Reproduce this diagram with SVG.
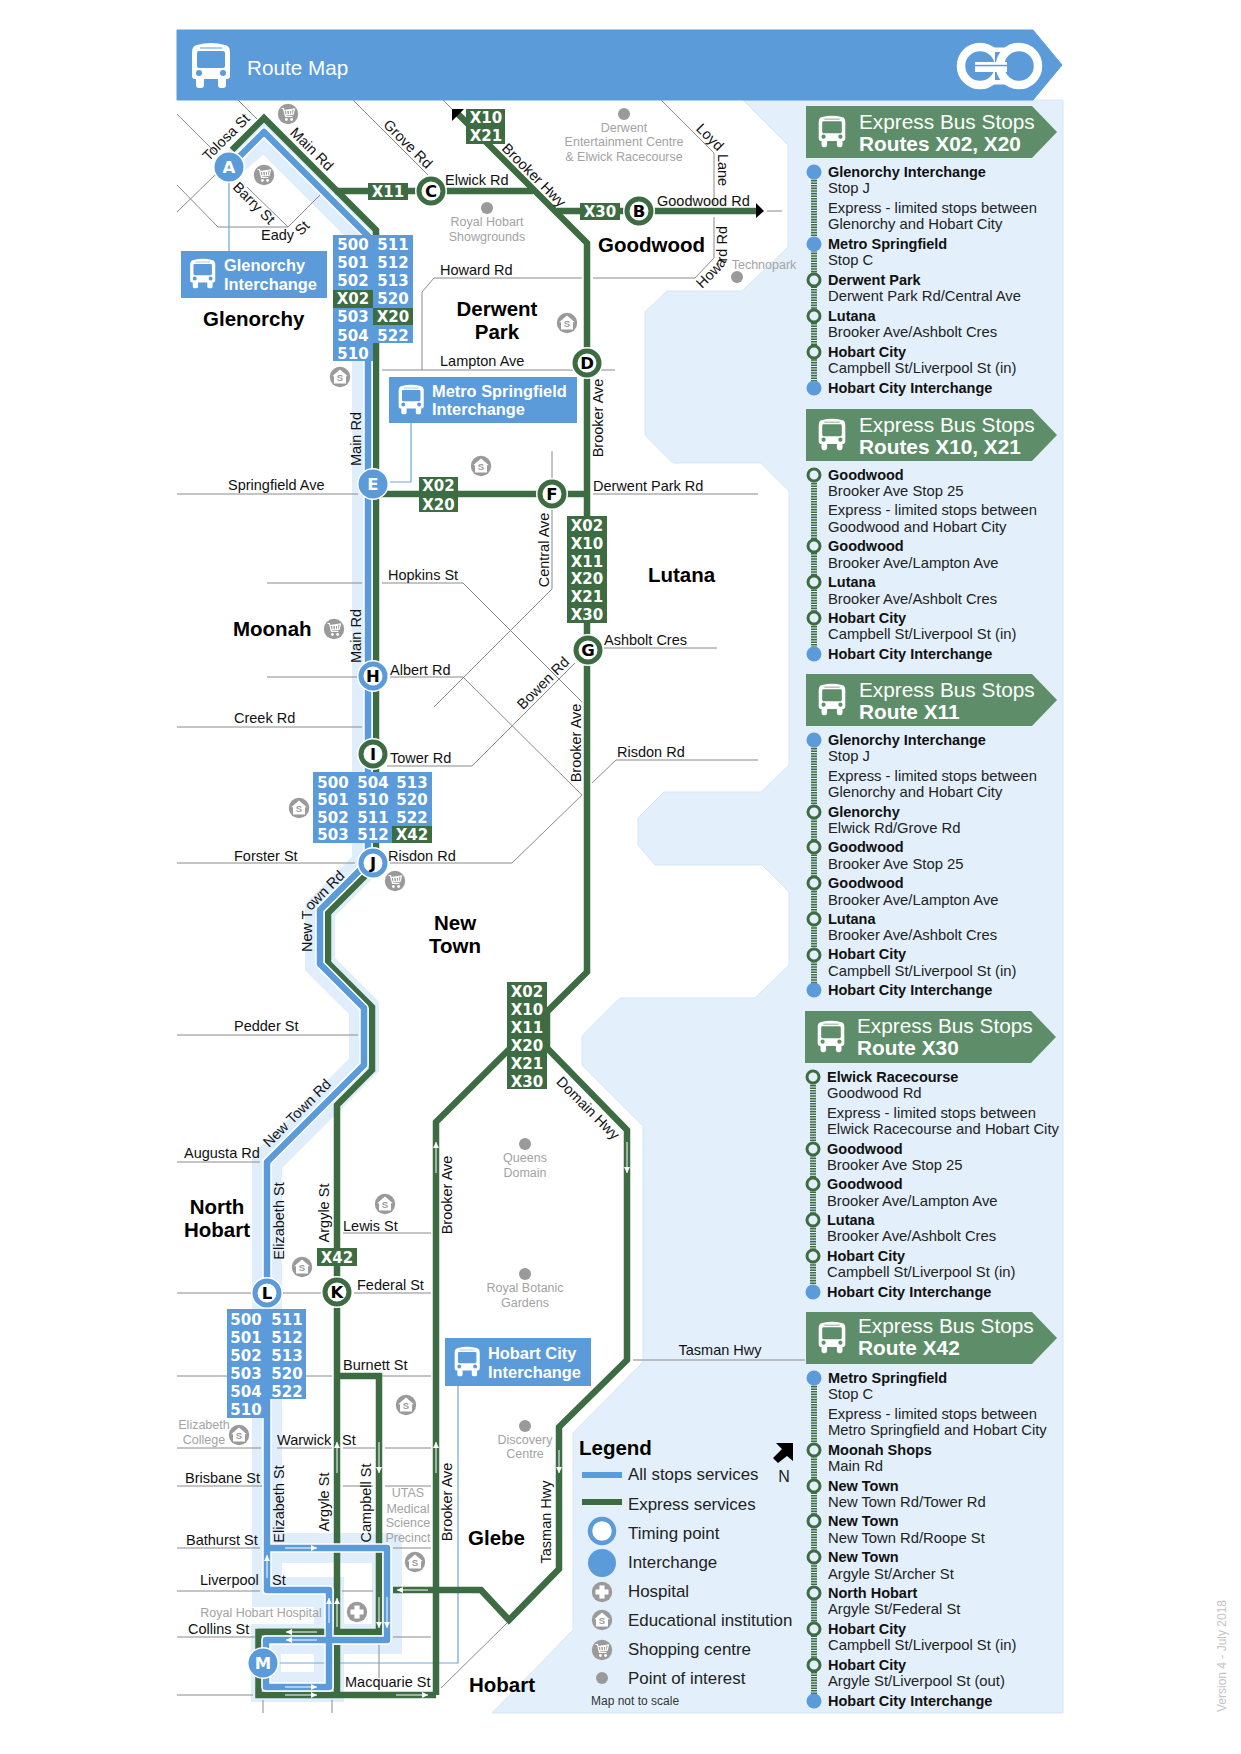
<svg xmlns="http://www.w3.org/2000/svg" xmlns:xlink="http://www.w3.org/1999/xlink" width="1241" height="1754" viewBox="0 0 1241 1754">
<style>
text{font-family:"Liberation Sans",Arial,sans-serif}
.s{font-size:14.5px;fill:#111}
.sm{font-size:14.5px;fill:#111;text-anchor:middle}
.sub{font-size:20.5px;font-weight:bold;fill:#000}
.subm{font-size:20.5px;font-weight:bold;fill:#000;text-anchor:middle}
.poi{font-size:12.5px;fill:#a3a3a3;text-anchor:middle}
.c{font-family:"DejaVu Sans",sans-serif;font-size:15px;font-weight:bold;fill:#fff;text-anchor:middle}
.box{font-size:16.4px;font-weight:bold;fill:#fff}
.b{font-size:14.5px;font-weight:bold;fill:#111}
.r{font-size:14.8px;fill:#222}
.l{font-size:16.9px;fill:#222}
.h1{font-size:20.8px;fill:#fff}
.h2{font-size:20.8px;font-weight:bold;fill:#fff}
.st{font-family:"DejaVu Sans",sans-serif;font-size:16.5px;font-weight:bold;text-anchor:middle;fill:#000}
.blue{fill:#5b9bd9}
.gr{fill:#3d6b42}
.street{fill:none;stroke:#8a8a8a;stroke-width:1}
.gl{fill:none;stroke:#3d6b42;stroke-width:6.5;stroke-linejoin:miter}
.bl{fill:none;stroke:#5b9bd9;stroke-width:6.5;stroke-linejoin:round}
.cw{fill:none;stroke:#fff;stroke-width:9.5;stroke-linejoin:round}
.pale{fill:none;stroke:#e0eefb;stroke-linejoin:miter}
.thin{fill:none;stroke:#6ea7dc;stroke-width:1.2}
.ar{fill:none;stroke:#fff;stroke-width:1;marker-end:url(#wa)}
.dash{stroke:#3d6b42;stroke-width:6;stroke-dasharray:1.6 1;fill:none}
.ring{fill:#e3f0fb;stroke:#3d6b42;stroke-width:3}
.ph{fill:#5e8e69}
</style>
<defs>
<marker id="wa" markerUnits="userSpaceOnUse" markerWidth="7" markerHeight="8" refX="6" refY="3" orient="auto"><path d="M0 0L6 3L0 6Z" fill="#fff"/></marker>
<path id="bus" fill="#fff" fill-rule="evenodd" d="M6 3Q20 -1 34 3Q39 4 39 10L39 34Q39 37 36 37L35 37L35 43Q35 46 32 46L30 46Q27 46 27 43L27 37L13 37L13 43Q13 46 10 46L8 46Q5 46 5 43L5 37L4 37Q1 37 1 34L1 10Q1 4 6 3ZM6 11Q6 9 8 9L32 9Q34 9 34 11L34 24Q34 26 32 26L8 26Q6 26 6 24ZM9 5.5L31 5.5L31 6.5L9 6.5ZM5 31a3 3 0 1 0 6 0a3 3 0 1 0 -6 0ZM29 31a3 3 0 1 0 6 0a3 3 0 1 0 -6 0Z"/>
<g id="school"><circle r="10.2" fill="#9a9a9a"/><path d="M0 -7.5L7.8 -0.8L6 -0.8L6 6.5L-6 6.5L-6 -0.8L-7.8 -0.8Z" fill="#fff"/><text y="3.8" text-anchor="middle" font-size="9.5" font-weight="bold" fill="#9a9a9a">S</text></g>
<g id="shop"><circle r="10.2" fill="#9a9a9a"/><path d="M-6.5 -5.5L-4.5 -5.5L-2.5 2.5L4.5 2.5M-3.8 -3.5L6.5 -5L5 0.5L-2.8 0.8M-1.5 -4L-0.8 0.8M1.2 -4.3L1.6 0.6M3.8 -4.6L3.4 0.5" fill="none" stroke="#fff" stroke-width="1.2"/><circle cx="-1.6" cy="5.5" r="1.4" fill="#fff"/><circle cx="3.6" cy="5.5" r="1.4" fill="#fff"/></g>
<g id="hosp"><circle r="10.2" fill="#9a9a9a"/><path d="M-2.6 -6.5H2.6V-2.6H6.5V2.6H2.6V6.5H-2.6V2.6H-6.5V-2.6H-2.6Z" fill="#fff"/></g>
<path id="ntr" d="M312 952L312 910L346 876"/>
<path id="hrd" d="M702 289L723 268L727 260L727 212"/>
</defs>

<g id="water"><path d="M743 100L1063 100L1063 1713L492 1713L573 1630L573 1433L643 1362L643 1126L582 1065L582 1036L620 998L755 998L789 965L789 892L762 865L655 865L638 845L638 818L664 792L761 792L789 765L789 491L761 463L673 463L645 435L645 312L667 291L742 291L788 247L788 145Z" fill="#e3f0fb" stroke="#d5e6f6"/></g>

<g id="corridor">
<path class="pale" stroke-width="26" d="M229 167L264 137L365 238L365 863"/>
<path class="pale" stroke-width="30" d="M368 862L320 910L320 964L364 1008L364 1065L267 1162L267 1592L329 1592L329 1687L266 1687L266 1639L387 1639L387 1548L267 1548"/>
</g>

<g id="header">
<path d="M177 30L1033 30L1062 65L1033 100L177 100Z" fill="#5b9bd9" stroke="#5b9bd9" stroke-linejoin="round"/>
<use href="#bus" transform="translate(191 42)"/>
<text x="247" y="75" font-size="20.7" fill="#fff">Route Map</text>
<g id="go-logo"><circle cx="980" cy="66" r="19" fill="none" stroke="#fff" stroke-width="8.500"/><rect x="995" y="50" width="14" height="32" fill="#5b9bd9"/><path d="M988 47.500L1006 47.500L1006 52L993 52ZM988 84.500L1006 84.500L1006 80L993 80Z" fill="#fff"/><circle cx="1019" cy="66" r="19" fill="#5b9bd9" stroke="#fff" stroke-width="8.500"/><rect x="975" y="62" width="32" height="10" fill="#fff"/><rect x="975" y="64.800" width="34" height="1.500" fill="#5b9bd9"/></g>
</g>

<g id="streets">
<path class="street" d="M238 100L257 119"/>
<path class="street" d="M177 114L215 152"/>
<path class="street" d="M177 212L215 175"/>
<path class="street" d="M177 185L218 227L288 227L320 195"/>
<path class="street" d="M247 187L288 227"/>
<path class="street" d="M353 100L428 175"/>
<path class="street" d="M443 100L453 110"/>
<path class="street" d="M422 370L422 292L434 278L582 278"/>
<path class="street" d="M593 278L695 278L714 258L714 217"/>
<path class="street" d="M714 204L714 153L661 100"/>
<path class="street" d="M382 370L573 370M600 370L615 370"/>
<path class="street" d="M767 211L782 211"/>
<path class="street" d="M177 494L358 494"/>
<path class="street" d="M593 494L758 494"/>
<path class="street" d="M552 451L552 480M552 510L552 589L434 707"/>
<path class="street" d="M267 583L362 583M382 583L463 583L582 702"/>
<path class="street" d="M267 677L358 677M390 677L463 677L582 795L512 863L390 863"/>
<path class="street" d="M177 727L362 727"/>
<path class="street" d="M387 766L472 766L575 663"/>
<path class="street" d="M592 783L616 760L758 760"/>
<path class="street" d="M604 648L717 648"/>
<path class="street" d="M177 863L355 863"/>
<path class="street" d="M177 1035L358 1035"/>
<path class="street" d="M177 1162L260 1162"/>
<path class="street" d="M343 1233L431 1233"/>
<path class="street" d="M177 1293L252 1293M282 1293L322 1293M354 1293L431 1293"/>
<path class="street" d="M177 1376L227 1376M306 1376L332 1376M382 1376L431 1376"/>
<path class="street" d="M177 1448L261 1448M277 1448L332 1448M343 1448L375 1448M385 1448L431 1448"/>
<path class="street" d="M177 1486L262 1486M343 1486L373 1486M385 1486L431 1486"/>
<path class="street" d="M177 1548L260 1548M393 1548L431 1548"/>
<path class="street" d="M177 1591L260 1591M342 1591L373 1591"/>
<path class="street" d="M177 1637L255 1637M393 1637L431 1637"/>
<path class="street" d="M177 1695L253 1695"/>
<path class="street" d="M263 1700L263 1713M332 1700L332 1713M379 1645L379 1678"/>
<path class="street" d="M441 1688L507 1623"/>
<path d="M633 1360L805 1360" fill="none" stroke="#a9acb0" stroke-width="1.6"/>
</g>

<g id="connectors">
<path class="thin" d="M229 167L229 251"/>
<path class="thin" d="M411 423L411 482L390 482"/>
<path class="thin" d="M458 1386L458 1663L280 1663"/>
<g id="express-lines">
<path class="gl" d="M232 150L264 118L376 230L376 865L328 913L328 963L372 1007L372 1070L337 1105L337 1632"/>
<path class="gl" d="M335 191L533 191"/>
<path class="gl" d="M457 113L587 243L587 972L436 1122L436 1695"/>
<path class="gl" d="M557 211L756 211"/>
<path class="gl" d="M373 494L587 494"/>
<path class="gl" d="M547 1012L547 1048L627 1130L627 1360L559 1427L559 1569L509 1620L481 1590L393 1590"/>
<path class="gl" d="M258 1632L379 1632L379 1376L337 1376"/>
<path class="gl" d="M337 1645L337 1695"/>
<path class="gl" stroke-linejoin="round" d="M323 1632L258.500 1632L258.500 1695L436 1695"/>
</g>
<g id="allstops-lines">
<path class="cw" d="M229 167L264 132L368 236L368 862L320 910L320 964L364 1008L364 1065L267 1162L267 1590L329 1590L329 1687L266 1687L266 1640L387 1640L387 1548L267 1548"/>
<path class="bl" d="M229 167L264 132L368 236L368 862L320 910L320 964L364 1008L364 1065L267 1162L267 1590L329 1590L329 1687L266 1687L266 1640L387 1640L387 1548L267 1548"/>
</g>
<g id="direction-arrows">
<path class="ar" d="M285 1548L317 1548"/>
<path class="ar" d="M267 1578L267 1555"/>
<path class="ar" d="M329 1623L329 1598"/>
<path class="ar" d="M337 1627L337 1598"/>
<path class="ar" d="M379 1597L379 1628"/>
<path class="ar" d="M387 1597L387 1628"/>
<path class="ar" d="M379 1442L379 1473"/>
<path class="ar" d="M337 1473L337 1442"/>
<path class="ar" d="M436 1473L436 1442"/>
<path class="ar" d="M436 1173L436 1142"/>
<path class="ar" d="M627 1142L627 1173"/>
<path class="ar" d="M559 1450L559 1473"/>
<path class="ar" d="M428 1590L397 1590"/>
<path class="ar" d="M317 1632L286 1632"/>
<path class="ar" d="M317 1640L286 1640"/>
<path class="ar" d="M285 1687L317 1687"/>
<path class="ar" d="M285 1695L317 1695"/>
<path class="ar" d="M396 1695L428 1695"/>
</g>
<path d="M452 109L464 109L452 121Z" fill="#000"/>
<path d="M756 203L756 218L764 211Z" fill="#000"/>
</g>

<g id="stations">
<g id="stop-A"><circle cx="229" cy="167" r="16" fill="#fff"/><circle cx="229" cy="167" r="14.5" class="blue"/><text x="229" y="173" class="st" style="fill:#fff">A</text></g>
<g id="stop-B"><circle cx="639" cy="211" r="16" fill="#fff"/><circle cx="639" cy="211" r="12" fill="#fff" stroke="#3d6b42" stroke-width="5"/><text x="639" y="217" class="st">B</text></g>
<g id="stop-C"><circle cx="431" cy="191" r="16" fill="#fff"/><circle cx="431" cy="191" r="12" fill="#fff" stroke="#3d6b42" stroke-width="5"/><text x="431" y="197" class="st">C</text></g>
<g id="stop-D"><circle cx="587" cy="363" r="16" fill="#fff"/><circle cx="587" cy="363" r="12" fill="#fff" stroke="#3d6b42" stroke-width="5"/><text x="587" y="369" class="st">D</text></g>
<g id="stop-E"><circle cx="373" cy="484" r="16" fill="#fff"/><circle cx="373" cy="484" r="14.500" class="blue"/><text x="373" y="490" class="st" style="fill:#fff">E</text></g>
<g id="stop-F"><circle cx="552" cy="494" r="16" fill="#fff"/><circle cx="552" cy="494" r="12" fill="#fff" stroke="#3d6b42" stroke-width="5"/><text x="552" y="500" class="st">F</text></g>
<g id="stop-G"><circle cx="588" cy="650" r="16" fill="#fff"/><circle cx="588" cy="650" r="12" fill="#fff" stroke="#3d6b42" stroke-width="5"/><text x="588" y="656" class="st">G</text></g>
<g id="stop-H"><circle cx="373" cy="676" r="16" fill="#fff"/><circle cx="373" cy="676" r="12" fill="#fff" stroke="#5b9bd9" stroke-width="5"/><text x="373" y="682" class="st">H</text></g>
<g id="stop-I"><circle cx="373" cy="754" r="16" fill="#fff"/><circle cx="373" cy="754" r="12" fill="#fff" stroke="#3d6b42" stroke-width="5"/><text x="373" y="760" class="st">I</text></g>
<g id="stop-J"><circle cx="373" cy="863" r="16" fill="#fff"/><circle cx="373" cy="863" r="12" fill="#fff" stroke="#5b9bd9" stroke-width="5"/><text x="373" y="869" class="st">J</text></g>
<g id="stop-K"><circle cx="337" cy="1292" r="16" fill="#fff"/><circle cx="337" cy="1292" r="12" fill="#fff" stroke="#3d6b42" stroke-width="5"/><text x="337" y="1298" class="st">K</text></g>
<g id="stop-L"><circle cx="267" cy="1293" r="16" fill="#fff"/><circle cx="267" cy="1293" r="12" fill="#fff" stroke="#5b9bd9" stroke-width="5"/><text x="267" y="1299" class="st">L</text></g>
<g id="stop-M"><circle cx="263" cy="1663" r="16" fill="#fff"/><circle cx="263" cy="1663" r="14.500" class="blue"/><text x="263" y="1669" class="st" style="fill:#fff">M</text></g>
</g>

<g id="interchange-boxes">
<g id="box-glenorchy"><rect x="181" y="251" width="146" height="47" class="blue"/><use href="#bus" transform="translate(189.500 258) scale(.66)"/><text class="box" x="224" y="271">Glenorchy</text><text class="box" x="224" y="290">Interchange</text></g>
<g id="box-metro"><rect x="389" y="377" width="188" height="46" class="blue"/><use href="#bus" transform="translate(398 384) scale(.66)"/><text class="box" x="432" y="397">Metro Springfield</text><text class="box" x="432" y="415">Interchange</text></g>
<g id="box-hobart"><rect x="445" y="1338" width="146" height="48" class="blue"/><use href="#bus" transform="translate(454 1346) scale(.66)"/><text class="box" x="488" y="1359">Hobart City</text><text class="box" x="488" y="1378">Interchange</text></g>
</g>

<g id="route-boxes">
<g id="routes-glenorchy"><rect x="333" y="235" width="80" height="108" class="blue"/><rect x="333" y="343" width="40" height="18" class="blue"/><rect x="333" y="290" width="40" height="18" class="gr"/><rect x="373" y="308" width="40" height="17" class="gr"/>
<text class="c" x="353" y="250">500</text><text class="c" x="393" y="250">511</text><text class="c" x="353" y="268">501</text><text class="c" x="393" y="268">512</text><text class="c" x="353" y="286">502</text><text class="c" x="393" y="286">513</text><text class="c" x="353" y="304">X02</text><text class="c" x="393" y="304">520</text><text class="c" x="353" y="322">503</text><text class="c" x="393" y="322">X20</text><text class="c" x="353" y="341">504</text><text class="c" x="393" y="341">522</text><text class="c" x="353" y="359">510</text></g>
<g id="routes-newtown"><rect x="313" y="772" width="119" height="71" class="blue"/><rect x="392" y="826" width="40" height="17" class="gr"/>
<text class="c" x="333" y="788">500</text><text class="c" x="373" y="788">504</text><text class="c" x="412" y="788">513</text><text class="c" x="333" y="805">501</text><text class="c" x="373" y="805">510</text><text class="c" x="412" y="805">520</text><text class="c" x="333" y="823">502</text><text class="c" x="373" y="823">511</text><text class="c" x="412" y="823">522</text><text class="c" x="333" y="840">503</text><text class="c" x="373" y="840">512</text><text class="c" x="412" y="840">X42</text></g>
<g id="routes-hobart"><rect x="227" y="1309" width="79" height="90" class="blue"/><rect x="227" y="1399" width="40" height="19" class="blue"/>
<text class="c" x="246" y="1325">500</text><text class="c" x="287" y="1325">511</text><text class="c" x="246" y="1343">501</text><text class="c" x="287" y="1343">512</text><text class="c" x="246" y="1361">502</text><text class="c" x="287" y="1361">513</text><text class="c" x="246" y="1379">503</text><text class="c" x="287" y="1379">520</text><text class="c" x="246" y="1397">504</text><text class="c" x="287" y="1397">522</text><text class="c" x="246" y="1415">510</text></g>
<g id="x11"><rect x="368" y="183" width="40" height="17" class="gr"/><text class="c" x="388" y="197">X11</text></g>
<g id="x10x21"><rect x="466" y="109" width="39" height="35" class="gr"/><text class="c" x="486" y="123">X10</text><text class="c" x="486" y="141">X21</text></g>
<g id="x30"><rect x="580" y="203" width="40" height="17" class="gr"/><text class="c" x="600" y="217">X30</text></g>
<g id="x02x20"><rect x="419" y="477" width="39" height="35" class="gr"/><text class="c" x="438.500" y="491">X02</text><text class="c" x="438.500" y="510">X20</text></g>
<g id="list-lutana"><rect x="567" y="516" width="40" height="107" class="gr"/><text class="c" x="587" y="531">X02</text><text class="c" x="587" y="549">X10</text><text class="c" x="587" y="567">X11</text><text class="c" x="587" y="584">X20</text><text class="c" x="587" y="602">X21</text><text class="c" x="587" y="620">X30</text></g>
<g id="list-mid"><rect x="507" y="982" width="40" height="107" class="gr"/><text class="c" x="527" y="997">X02</text><text class="c" x="527" y="1015">X10</text><text class="c" x="527" y="1033">X11</text><text class="c" x="527" y="1051">X20</text><text class="c" x="527" y="1069">X21</text><text class="c" x="527" y="1087">X30</text></g>
<g id="x42"><rect x="317" y="1248" width="40" height="18" class="gr"/><text class="c" x="337" y="1263">X42</text></g>
</g>

<g id="icons">
<use href="#shop" x="288" y="114"/><use href="#shop" x="264" y="175"/><use href="#shop" x="334" y="629"/><use href="#shop" x="395" y="881"/>
<use href="#school" x="567" y="323"/><use href="#school" x="340" y="377"/><use href="#school" x="481" y="466"/><use href="#school" x="299" y="808"/><use href="#school" x="385" y="1204"/><use href="#school" x="302" y="1267"/><use href="#school" x="406" y="1405"/><use href="#school" x="239" y="1435"/><use href="#school" x="415" y="1562"/>
<use href="#hosp" x="357" y="1612"/>
<g fill="#9a9a9a"><circle cx="624" cy="114" r="6"/><circle cx="487" cy="208" r="6"/><circle cx="737" cy="277" r="6"/><circle cx="525" cy="1144" r="6"/><circle cx="525" cy="1274" r="6"/><circle cx="525" cy="1426" r="6"/></g>
</g>

<g id="poi-labels">
<text class="poi" x="624" y="132">Derwent</text><text class="poi" x="624" y="146">Entertainment Centre</text><text class="poi" x="624" y="161">&amp; Elwick Racecourse</text>
<text class="poi" x="487" y="226">Royal Hobart</text><text class="poi" x="487" y="241">Showgrounds</text>
<text class="poi" x="764" y="269">Technopark</text>
<text class="poi" x="525" y="1162">Queens</text><text class="poi" x="525" y="1177">Domain</text>
<text class="poi" x="525" y="1292">Royal Botanic</text><text class="poi" x="525" y="1307">Gardens</text>
<text class="poi" x="525" y="1444">Discovery</text><text class="poi" x="525" y="1458">Centre</text>
<text class="poi" x="204" y="1429">Elizabeth</text><text class="poi" x="204" y="1444">College</text>
<text class="poi" x="408" y="1497">UTAS</text><text class="poi" x="408" y="1513">Medical</text><text class="poi" x="408" y="1527">Science</text><text class="poi" x="408" y="1542">Precinct</text>
<text class="poi" x="261" y="1617">Royal Hobart Hospital</text>
</g>

<g id="suburbs">
<text class="sub" x="203" y="326">Glenorchy</text>
<text class="sub" x="598" y="252">Goodwood</text>
<text class="subm" x="497" y="316">Derwent</text><text class="subm" x="497" y="339">Park</text>
<text class="sub" x="648" y="582">Lutana</text>
<text class="sub" x="233" y="636">Moonah</text>
<text class="subm" x="455" y="930">New</text><text class="subm" x="455" y="953">Town</text>
<text class="subm" x="217" y="1214">North</text><text class="subm" x="217" y="1237">Hobart</text>
<text class="sub" x="468" y="1545">Glebe</text>
<text class="sub" x="469" y="1692">Hobart</text>
</g>

<g id="street-labels">
<text class="sm" dy="5" transform="translate(226 137) rotate(-45)">Tolosa St</text>
<text class="sm" dy="5" transform="translate(312 149) rotate(45)">Main Rd</text>
<text class="sm" dy="5" transform="translate(254 203) rotate(45)">Barry St</text>
<text class="s" x="261" y="240">Eady</text>
<text class="sm" dy="5" transform="translate(302 228) rotate(-45)">St</text>
<text class="sm" dy="5" transform="translate(408 144) rotate(45)">Grove Rd</text>
<text class="s" x="445" y="185">Elwick Rd</text>
<text class="sm" dy="5" transform="translate(534 175) rotate(45)">Brooker Hwy</text>
<text class="s" x="657" y="206">Goodwood Rd</text>
<text class="sm" dy="5" transform="translate(710 137) rotate(45)">Loyd</text>
<text class="sm" dy="5" transform="translate(723 170) rotate(90)">Lane</text>
<text class="s"><textPath href="#hrd">Howard Rd</textPath></text>
<text class="s" x="440" y="275">Howard Rd</text>
<text class="s" x="440" y="366">Lampton Ave</text>
<text class="sm" dy="5" transform="translate(598 418) rotate(-90)">Brooker Ave</text>
<text class="sm" dy="5" transform="translate(356 439) rotate(-90)">Main Rd</text>
<text class="sm" dy="5" transform="translate(356 636) rotate(-90)">Main Rd</text>
<text class="s" x="228" y="490">Springfield Ave</text>
<text class="s" x="593" y="491">Derwent Park Rd</text>
<text class="sm" dy="5" transform="translate(544 550) rotate(-90)">Central Ave</text>
<text class="s" x="388" y="580">Hopkins St</text>
<text class="s" x="604" y="645">Ashbolt Cres</text>
<text class="s" x="390" y="675">Albert Rd</text>
<text class="s" x="234" y="723">Creek Rd</text>
<text class="sm" dy="5" transform="translate(543 683) rotate(-45)">Bowen Rd</text>
<text class="sm" dy="5" transform="translate(576 743) rotate(-90)">Brooker Ave</text>
<text class="s" x="390" y="763">Tower Rd</text>
<text class="s" x="617" y="757">Risdon Rd</text>
<text class="s" x="234" y="861">Forster St</text>
<text class="s" x="388" y="861">Risdon Rd</text>
<text class="s"><textPath href="#ntr">New Town Rd</textPath></text>
<text class="s" x="234" y="1031">Pedder St</text>
<text class="sm" dy="5" transform="translate(297 1113) rotate(-45)">New Town Rd</text>
<text class="s" x="184" y="1158">Augusta Rd</text>
<text class="sm" dy="5" transform="translate(279 1221) rotate(-90)">Elizabeth St</text>
<text class="sm" dy="5" transform="translate(324 1213) rotate(-90)">Argyle St</text>
<text class="s" x="343" y="1231">Lewis St</text>
<text class="s" x="357" y="1290">Federal St</text>
<text class="sm" dy="5" transform="translate(447 1195) rotate(-90)">Brooker Ave</text>
<text class="sm" dy="5" transform="translate(588 1108) rotate(45)">Domain Hwy</text>
<text class="s" x="343" y="1370">Burnett St</text>
<text class="s" y="1445"><tspan x="277">Warwick </tspan><tspan x="342">St</tspan></text>
<text class="s" x="185" y="1483">Brisbane St</text>
<text class="sm" dy="5" transform="translate(279 1504) rotate(-90)">Elizabeth St</text>
<text class="sm" dy="5" transform="translate(324 1502) rotate(-90)">Argyle St</text>
<text class="sm" dy="5" transform="translate(366 1503) rotate(-90)">Campbell St</text>
<text class="sm" dy="5" transform="translate(447 1502) rotate(-90)">Brooker Ave</text>
<text class="sm" dy="5" transform="translate(546 1522) rotate(-90)">Tasman Hwy</text>
<text class="s" x="186" y="1545">Bathurst St</text>
<text class="s" y="1585"><tspan x="200">Liverpool </tspan><tspan x="272">St</tspan></text>
<text class="s" x="188" y="1634">Collins St</text>
<text class="s" x="345" y="1687">Macquarie St</text>
<text class="sm" x="720" y="1355">Tasman Hwy</text>
</g>

<g id="legend">
<text class="sub" x="579" y="1455">Legend</text>
<rect x="582" y="1472" width="40" height="6" class="blue"/><text class="l" x="628" y="1480">All stops services</text>
<rect x="582" y="1499" width="40" height="6" class="gr"/><text class="l" x="628" y="1510">Express services</text>
<circle cx="602" cy="1531" r="12" fill="#fff" stroke="#5b9bd9" stroke-width="4.500"/><text class="l" x="628" y="1539">Timing point</text>
<circle cx="602" cy="1563" r="14" class="blue"/><text class="l" x="628" y="1568">Interchange</text>
<use href="#hosp" x="602" y="1592"/><text class="l" x="628" y="1597">Hospital</text>
<use href="#school" x="602" y="1620"/><text class="l" x="628" y="1626">Educational institution</text>
<use href="#shop" x="602" y="1650"/><text class="l" x="628" y="1655">Shopping centre</text>
<circle cx="602" cy="1678" r="6" fill="#9a9a9a"/><text class="l" x="628" y="1684">Point of interest</text>
<text x="591" y="1705" font-size="12" fill="#333">Map not to scale</text>
<path d="M776 1443L793 1443L793 1461L787 1456L778 1463L773 1458L782 1449Z" fill="#000"/>
<text x="784" y="1482" font-size="16" text-anchor="middle" fill="#222">N</text>
</g>

<g id="panel-x02x20">
<path class="ph" d="M806 106L1032 106L1057 132L1032 158L806 158Z"/><use href="#bus" transform="translate(818 115) scale(.7)"/><text class="h1" x="859" y="129">Express Bus Stops</text><text class="h2" x="859" y="151">Routes X02, X20</text>
<path class="dash" d="M814 172L814 388"/>
<circle cx="814" cy="172" r="7.500" class="blue"/><circle cx="814" cy="244" r="7.500" class="blue"/><circle cx="814" cy="280" r="6" class="ring"/><circle cx="814" cy="316" r="6" class="ring"/><circle cx="814" cy="352" r="6" class="ring"/><circle cx="814" cy="388" r="7.500" class="blue"/>
<text class="b" x="828" y="177">Glenorchy Interchange</text><text class="r" x="828" y="193">Stop J</text><text class="r" x="828" y="213">Express - limited stops between</text><text class="r" x="828" y="229">Glenorchy and Hobart City</text><text class="b" x="828" y="249">Metro Springfield</text><text class="r" x="828" y="265">Stop C</text><text class="b" x="828" y="285">Derwent Park</text><text class="r" x="828" y="301">Derwent Park Rd/Central Ave</text><text class="b" x="828" y="321">Lutana</text><text class="r" x="828" y="337">Brooker Ave/Ashbolt Cres</text><text class="b" x="828" y="357">Hobart City</text><text class="r" x="828" y="373">Campbell St/Liverpool St (in)</text><text class="b" x="828" y="393">Hobart City Interchange</text>
</g>

<g id="panel-x10x21">
<path class="ph" d="M806 409L1032 409L1057 435L1032 461L806 461Z"/><use href="#bus" transform="translate(818 418) scale(.7)"/><text class="h1" x="859" y="432">Express Bus Stops</text><text class="h2" x="859" y="454">Routes X10, X21</text>
<path class="dash" d="M814 475L814 655"/>
<circle cx="814" cy="475" r="6" class="ring"/><circle cx="814" cy="546" r="6" class="ring"/><circle cx="814" cy="582" r="6" class="ring"/><circle cx="814" cy="618" r="6" class="ring"/><circle cx="814" cy="654" r="7.500" class="blue"/>
<text class="b" x="828" y="480">Goodwood</text><text class="r" x="828" y="496">Brooker Ave Stop 25</text><text class="r" x="828" y="515">Express - limited stops between</text><text class="r" x="828" y="532">Goodwood and Hobart City</text><text class="b" x="828" y="551">Goodwood</text><text class="r" x="828" y="568">Brooker Ave/Lampton Ave</text><text class="b" x="828" y="587">Lutana</text><text class="r" x="828" y="604">Brooker Ave/Ashbolt Cres</text><text class="b" x="828" y="623">Hobart City</text><text class="r" x="828" y="639">Campbell St/Liverpool St (in)</text><text class="b" x="828" y="659">Hobart City Interchange</text>
</g>

<g id="panel-x11">
<path class="ph" d="M806 674L1032 674L1057 700L1032 726L806 726Z"/><use href="#bus" transform="translate(818 683) scale(.7)"/><text class="h1" x="859" y="697">Express Bus Stops</text><text class="h2" x="859" y="719">Route X11</text>
<path class="dash" d="M814 740L814 991"/>
<circle cx="814" cy="740" r="7.500" class="blue"/><circle cx="814" cy="812" r="6" class="ring"/><circle cx="814" cy="847" r="6" class="ring"/><circle cx="814" cy="883" r="6" class="ring"/><circle cx="814" cy="919" r="6" class="ring"/><circle cx="814" cy="955" r="6" class="ring"/><circle cx="814" cy="990" r="7.500" class="blue"/>
<text class="b" x="828" y="745">Glenorchy Interchange</text><text class="r" x="828" y="761">Stop J</text><text class="r" x="828" y="781">Express - limited stops between</text><text class="r" x="828" y="797">Glenorchy and Hobart City</text><text class="b" x="828" y="817">Glenorchy</text><text class="r" x="828" y="833">Elwick Rd/Grove Rd</text><text class="b" x="828" y="852">Goodwood</text><text class="r" x="828" y="869">Brooker Ave Stop 25</text><text class="b" x="828" y="888">Goodwood</text><text class="r" x="828" y="905">Brooker Ave/Lampton Ave</text><text class="b" x="828" y="924">Lutana</text><text class="r" x="828" y="940">Brooker Ave/Ashbolt Cres</text><text class="b" x="828" y="959">Hobart City</text><text class="r" x="828" y="976">Campbell St/Liverpool St (in)</text><text class="b" x="828" y="995">Hobart City Interchange</text>
</g>

<g id="panel-x30">
<path class="ph" d="M805 1011L1031 1011L1056 1037L1031 1063L805 1063Z"/><use href="#bus" transform="translate(817 1020) scale(.7)"/><text class="h1" x="857" y="1033">Express Bus Stops</text><text class="h2" x="857" y="1055">Route X30</text>
<path class="dash" d="M813 1077L813 1292"/>
<circle cx="813" cy="1077" r="6" class="ring"/><circle cx="813" cy="1149" r="6" class="ring"/><circle cx="813" cy="1184" r="6" class="ring"/><circle cx="813" cy="1220" r="6" class="ring"/><circle cx="813" cy="1256" r="6" class="ring"/><circle cx="813" cy="1292" r="7.500" class="blue"/>
<text class="b" x="827" y="1082">Elwick Racecourse</text><text class="r" x="827" y="1098">Goodwood Rd</text><text class="r" x="827" y="1118">Express - limited stops between</text><text class="r" x="827" y="1134">Elwick Racecourse and Hobart City</text><text class="b" x="827" y="1154">Goodwood</text><text class="r" x="827" y="1170">Brooker Ave Stop 25</text><text class="b" x="827" y="1189">Goodwood</text><text class="r" x="827" y="1206">Brooker Ave/Lampton Ave</text><text class="b" x="827" y="1225">Lutana</text><text class="r" x="827" y="1241">Brooker Ave/Ashbolt Cres</text><text class="b" x="827" y="1261">Hobart City</text><text class="r" x="827" y="1277">Campbell St/Liverpool St (in)</text><text class="b" x="827" y="1297">Hobart City Interchange</text>
</g>

<g id="panel-x42">
<path class="ph" d="M806 1312L1032 1312L1057 1338L1032 1364L806 1364Z"/><use href="#bus" transform="translate(818 1321) scale(.7)"/><text class="h1" x="858" y="1333">Express Bus Stops</text><text class="h2" x="858" y="1355">Route X42</text>
<path class="dash" d="M814 1378L814 1701"/>
<circle cx="814" cy="1378" r="7.500" class="blue"/><circle cx="814" cy="1450" r="6" class="ring"/><circle cx="814" cy="1486" r="6" class="ring"/><circle cx="814" cy="1521" r="6" class="ring"/><circle cx="814" cy="1557" r="6" class="ring"/><circle cx="814" cy="1593" r="6" class="ring"/><circle cx="814" cy="1629" r="6" class="ring"/><circle cx="814" cy="1665" r="6" class="ring"/><circle cx="814" cy="1701" r="7.500" class="blue"/>
<text class="b" x="828" y="1383">Metro Springfield</text><text class="r" x="828" y="1399">Stop C</text><text class="r" x="828" y="1419">Express - limited stops between</text><text class="r" x="828" y="1435">Metro Springfield and Hobart City</text><text class="b" x="828" y="1455">Moonah Shops</text><text class="r" x="828" y="1471">Main Rd</text><text class="b" x="828" y="1491">New Town</text><text class="r" x="828" y="1507">New Town Rd/Tower Rd</text><text class="b" x="828" y="1526">New Town</text><text class="r" x="828" y="1543">New Town Rd/Roope St</text><text class="b" x="828" y="1562">New Town</text><text class="r" x="828" y="1579">Argyle St/Archer St</text><text class="b" x="828" y="1598">North Hobart</text><text class="r" x="828" y="1614">Argyle St/Federal St</text><text class="b" x="828" y="1634">Hobart City</text><text class="r" x="828" y="1650">Campbell St/Liverpool St (in)</text><text class="b" x="828" y="1670">Hobart City</text><text class="r" x="828" y="1686">Argyle St/Liverpool St (out)</text><text class="b" x="828" y="1706">Hobart City Interchange</text>
</g>

<text x="0" y="0" font-size="12" fill="#c4c4c4" text-anchor="middle" textLength="112" lengthAdjust="spacingAndGlyphs" transform="translate(1226 1656) rotate(-90)">Version 4 - July 2018</text>
</svg>
